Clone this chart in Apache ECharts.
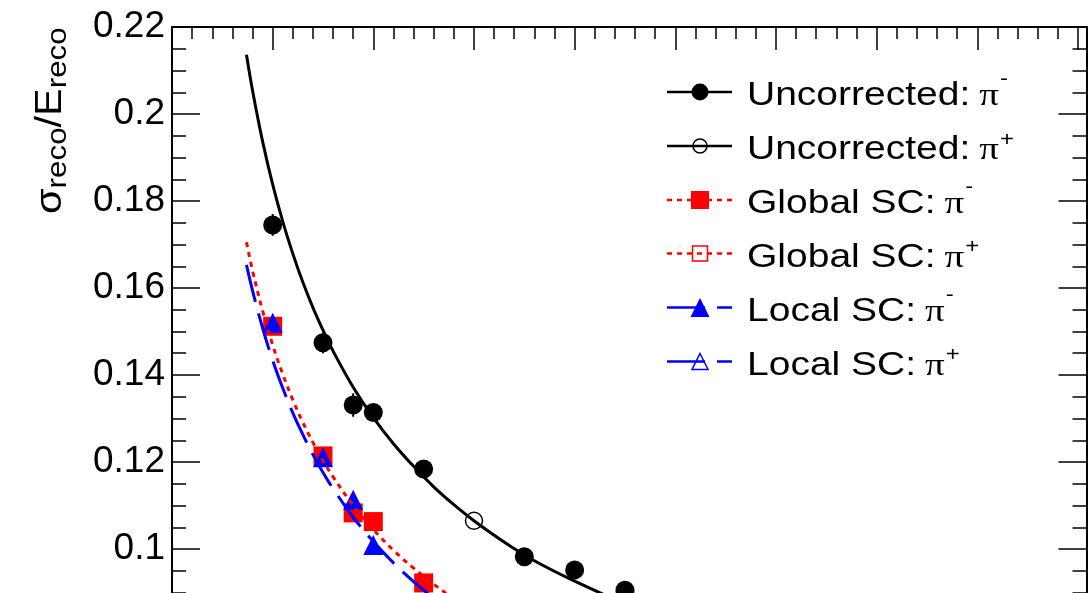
<!DOCTYPE html>
<html>
<head>
<meta charset="utf-8">
<script src="https://cdn.jsdelivr.net/npm/echarts@6/dist/echarts.min.js"></script>
<style>
  html, body { margin: 0; padding: 0; background: #ffffff; }
  #chart { width: 1092px; height: 593px; }
</style>
</head>
<body>
<div id="chart"></div>
<script>
// Beam energies (GeV) and relative energy resolution sigma/E
const energiesMinus = [10, 15, 18, 20, 25, 35, 40, 45];
const uncorrectedMinus = [0.1745, 0.1474, 0.1331, 0.1314, 0.1184, 0.0982, 0.0952, 0.0905];
const uncorrectedMinusErr = [0.0025, 0.0024, 0.0027, 0.0015, 0.0015, 0.0012, 0.0015, 0.0015];

const energiesPlus = [30];
const uncorrectedPlus = [0.1065];

const energiesSC = [10, 15, 18, 20, 25];
const globalMinus = [0.1512, 0.1214, 0.1083, 0.1063, 0.0922];
const localMinus = [0.1520, 0.1211, 0.1113, 0.1009, 0.0872];
const globalPlus = [];
const localPlus = [];

// Resolution fit curves, sampled along energy
const uncorrFitE = [7.4, 8, 9, 10, 11, 12, 13, 14, 15, 16, 18, 20, 22, 24, 26, 28, 30, 33, 36, 40, 45];
const uncorrFitV = [0.2136, 0.2054, 0.1937, 0.1838, 0.1753, 0.1679, 0.1613, 0.1555, 0.1503, 0.1455,
                    0.1372, 0.1302, 0.1242, 0.1190, 0.1143, 0.1102, 0.1065, 0.1016, 0.0973, 0.0926, 0.0874];
const globalFitE = [7.4, 8, 9, 10, 11, 12, 13, 14, 15, 16, 18, 20, 22, 24, 26, 28, 30];
const globalFitV = [0.1705, 0.1640, 0.1548, 0.1469, 0.1402, 0.1343, 0.1291, 0.1245, 0.1203, 0.1166,
                    0.1100, 0.1045, 0.0997, 0.0956, 0.0919, 0.0886, 0.0857];
const localFitE = [7.4, 8, 9, 10, 11, 12, 13, 14, 15, 16, 18, 20, 22, 24, 26, 28];
const localFitV = [0.1653, 0.1594, 0.1508, 0.1434, 0.1370, 0.1313, 0.1263, 0.1217, 0.1176, 0.1139,
                   0.1073, 0.1017, 0.0968, 0.0925, 0.0887, 0.0853];

// Axis ranges and tick labels
const xMin = 0, xMax = 90.85;
const yMin = 0.08, yMax = 0.22;
const yTickLabels = ['0.08', '0.1', '0.12', '0.14', '0.16', '0.18', '0.2', '0.22'];

// Legend entries
const legendMain = ['Uncorrected:', 'Uncorrected:', 'Global SC:', 'Global SC:', 'Local SC:', 'Local SC:'];
const legendSup = ['-', '+', '-', '+', '-', '+'];

const pairs = (xs, ys) => xs.map((x, i) => [x, ys[i]]);

const BLACK = '#000000', RED = '#ff0000', BLUE = '#0000ff';
const SANS = '"Liberation Sans", Arial, Helvetica, sans-serif';
const SERIF = '"Liberation Serif", "Times New Roman", serif';
const DASH_RED = [5, 5];
const DASH_BLUE = [38, 12];

const tickStyle = { color: BLACK, width: 1.5 };
const frameStyle = { color: BLACK, width: 2 };

function xAxisDef(pos, interval, len, withLine) {
  return {
    type: 'value', position: pos, min: xMin, max: xMax, interval: interval,
    axisLine: { show: withLine, onZero: false, lineStyle: frameStyle },
    axisTick: { show: true, inside: true, length: len, lineStyle: tickStyle },
    axisLabel: { show: false },
    splitLine: { show: false }
  };
}

function yAxisDef(pos, withLabels) {
  return {
    type: 'value', position: pos, min: yMin, max: yMax, interval: 0.02,
    axisLine: { show: true, onZero: false, lineStyle: frameStyle },
    axisTick: { show: true, inside: true, length: 28, lineStyle: tickStyle },
    minorTick: { show: true, splitNumber: 4, length: 14, lineStyle: tickStyle },
    axisLabel: {
      show: withLabels, margin: 7, color: BLACK,
      fontFamily: SANS, fontSize: 37, padding: [7, 0, 0, 0],
      formatter: v => yTickLabels[Math.round((v - yMin) / 0.02)]
    },
    splitLine: { show: false },
    minorSplitLine: { show: false }
  };
}

// ---- text measuring for composed labels ----
const mctx = document.createElement('canvas').getContext('2d');
function textWidth(t, size, family) {
  mctx.font = size + 'px ' + family;
  return mctx.measureText(t).width;
}

// ---- y-axis title: sigma_reco / E_reco, rotated ----
const titleScale = 1.12;
const titleParts = [
  { t: '\u03c3', size: 37, sub: false },
  { t: 'reco', size: 28, sub: true },
  { t: '/E', size: 37, sub: false },
  { t: 'reco', size: 28, sub: true }
];
const titleChildren = [];
let cursor = 0;
titleParts.forEach(p => {
  titleChildren.push({
    type: 'text', x: cursor, y: p.sub ? (5 - 0.31 * p.size) : (-0.31 * p.size),
    scaleX: titleScale,
    style: { text: p.t, fontFamily: SANS, fontSize: p.size, fill: BLACK, align: 'left', verticalAlign: 'middle' }
  });
  cursor += textWidth(p.t, p.size, SANS) * titleScale;
});

// ---- legend block ----
const legendRows = [92, 146, 200, 253.5, 307.5, 361.5];
const legendLook = [
  { color: BLACK, dash: null, symbol: 'circle', filled: true, size: 17 },
  { color: BLACK, dash: null, symbol: 'circle', filled: false, size: 14 },
  { color: RED, dash: DASH_RED, symbol: 'square', filled: true, size: 18 },
  { color: RED, dash: DASH_RED, symbol: 'square', filled: false, size: 15 },
  { color: BLUE, dash: DASH_BLUE, symbol: 'triangle', filled: true, size: 19 },
  { color: BLUE, dash: DASH_BLUE, symbol: 'triangle', filled: false, size: 16 }
];
const legendChildren = [];
const lx1 = 667, lx2 = 732, mx = 700, tx = 747;
const textScale = 1.2, mainSize = 32.5, supSize = 20;
legendRows.forEach((cy, i) => {
  const lk = legendLook[i];
  legendChildren.push({
    type: 'line', shape: { x1: lx1, y1: cy, x2: lx2, y2: cy },
    style: { stroke: lk.color, lineWidth: 2.5, lineDash: lk.dash || null }
  });
  const fill = lk.filled ? lk.color : 'rgba(0,0,0,0)';
  const sw = lk.filled ? 0 : 1.5;
  const h = lk.size / 2;
  if (lk.symbol === 'circle') {
    legendChildren.push({ type: 'circle', shape: { cx: mx, cy: cy, r: h }, style: { fill: fill, stroke: lk.color, lineWidth: sw } });
  } else if (lk.symbol === 'square') {
    legendChildren.push({ type: 'rect', shape: { x: mx - h, y: cy - h, width: lk.size, height: lk.size }, style: { fill: fill, stroke: lk.color, lineWidth: sw } });
  } else {
    legendChildren.push({ type: 'polygon', shape: { points: [[mx, cy - h], [mx + h, cy + h], [mx - h, cy + h]] }, style: { fill: fill, stroke: lk.color, lineWidth: sw } });
  }
  const ty = cy + 4.5;
  legendChildren.push({
    type: 'text', x: tx, y: ty, scaleX: textScale,
    style: { text: legendMain[i], fontFamily: SANS, fontSize: mainSize, fill: BLACK, align: 'left', verticalAlign: 'middle' }
  });
  const piX = tx + textWidth(legendMain[i], mainSize, SANS) * textScale + 9;
  legendChildren.push({
    type: 'text', x: piX, y: ty, scaleX: textScale,
    style: { text: '\u03c0', fontFamily: SERIF, fontSize: mainSize, fill: BLACK, align: 'left', verticalAlign: 'middle' }
  });
  const supX = piX + textWidth('\u03c0', mainSize, SERIF) * textScale + 1;
  legendChildren.push({
    type: 'text', x: supX, y: legendSup[i] === '-' ? cy - 12.5 : cy - 6, scaleX: textScale,
    style: { text: legendSup[i], fontFamily: SANS, fontSize: supSize, fill: BLACK, align: 'left', verticalAlign: 'middle' }
  });
});

const chart = echarts.init(document.getElementById('chart'), null, { renderer: 'canvas' });

const option = {
  animation: false,
  backgroundColor: '#ffffff',
  grid: { left: 172, top: 27, width: 914.5, height: 609, containLabel: false, outerBoundsMode: 'none' },
  xAxis: [
    xAxisDef('bottom', 10, 23, true),
    xAxisDef('bottom', 2, 12, false),
    xAxisDef('top', 10, 23, true),
    xAxisDef('top', 2, 12, false)
  ],
  yAxis: [
    yAxisDef('left', true),
    yAxisDef('right', false)
  ],
  series: [
    {
      name: 'Uncorrected fit', type: 'line', data: pairs(uncorrFitE, uncorrFitV),
      showSymbol: false, smooth: 0.4, clip: true,
      lineStyle: { color: BLACK, width: 3 }
    },
    {
      name: 'Uncorrected errors', type: 'custom', clip: true,
      data: energiesMinus.map((e, i) => [e, uncorrectedMinus[i], uncorrectedMinusErr[i]]),
      renderItem: (params, api) => {
        const x = api.value(0), y = api.value(1), err = api.value(2);
        const p1 = api.coord([x, y - err]), p2 = api.coord([x, y + err]);
        return { type: 'line', shape: { x1: p1[0], y1: p1[1], x2: p2[0], y2: p2[1] }, style: { stroke: BLACK, lineWidth: 2 } };
      }
    },
    {
      name: 'Uncorrected: pi-', type: 'scatter', data: pairs(energiesMinus, uncorrectedMinus),
      symbol: 'circle', symbolSize: 19, itemStyle: { color: BLACK, opacity: 1 }
    },
    {
      name: 'Uncorrected: pi+', type: 'scatter', data: pairs(energiesPlus, uncorrectedPlus),
      symbol: 'circle', symbolSize: 17,
      itemStyle: { color: 'rgba(0,0,0,0)', borderColor: BLACK, borderWidth: 1.5, opacity: 1 }
    },
    {
      name: 'Global SC fit', type: 'line', data: pairs(globalFitE, globalFitV),
      showSymbol: false, smooth: 0.4, clip: true,
      lineStyle: { color: RED, width: 3, type: DASH_RED }
    },
    {
      name: 'Global SC: pi-', type: 'scatter', data: pairs(energiesSC, globalMinus),
      symbol: 'rect', symbolSize: 19, itemStyle: { color: RED, opacity: 1 }
    },
    {
      name: 'Global SC: pi+', type: 'scatter', data: pairs(energiesPlus.slice(0, globalPlus.length), globalPlus),
      symbol: 'rect', symbolSize: 17,
      itemStyle: { color: 'rgba(0,0,0,0)', borderColor: RED, borderWidth: 1.5, opacity: 1 }
    },
    {
      name: 'Local SC fit', type: 'line', data: pairs(localFitE, localFitV),
      showSymbol: false, smooth: 0.4, clip: true,
      lineStyle: { color: BLUE, width: 3, type: DASH_BLUE }
    },
    {
      name: 'Local SC: pi-', type: 'scatter', data: pairs(energiesSC, localMinus),
      symbol: 'triangle', symbolSize: 20, itemStyle: { color: BLUE, opacity: 1 }
    },
    {
      name: 'Local SC: pi+', type: 'scatter', data: pairs(energiesPlus.slice(0, localPlus.length), localPlus),
      symbol: 'triangle', symbolSize: 18,
      itemStyle: { color: 'rgba(0,0,0,0)', borderColor: BLUE, borderWidth: 1.5, opacity: 1 }
    }
  ],
  graphic: [
    { type: 'group', x: 62, y: 214, rotation: Math.PI / 2, children: titleChildren },
    { type: 'group', children: legendChildren }
  ]
};

chart.setOption(option);
</script>
</body>
</html>
